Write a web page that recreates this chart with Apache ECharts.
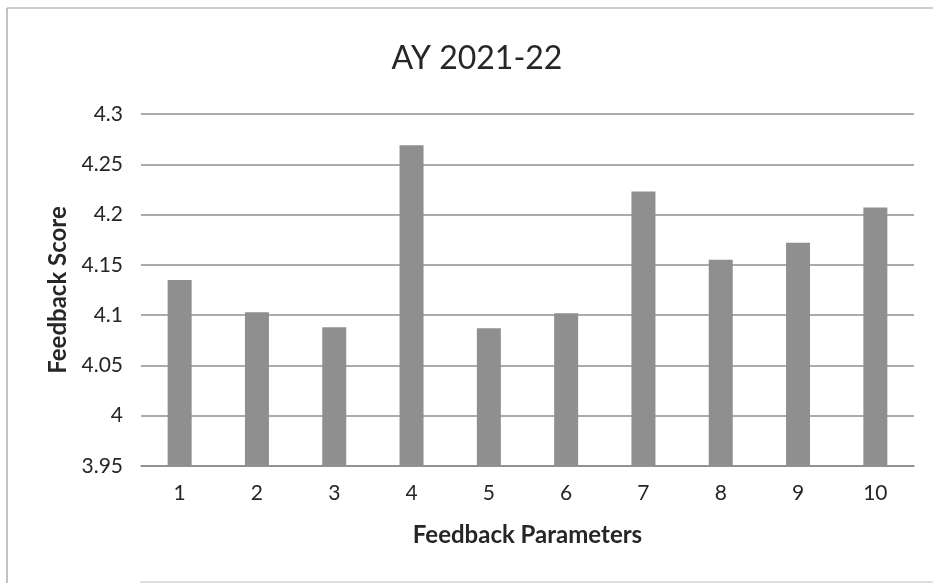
<!DOCTYPE html>
<html>
<head>
<meta charset="utf-8">
<script src="https://cdn.jsdelivr.net/npm/echarts@6/dist/echarts.min.js"></script>
<style>
html,body{margin:0;padding:0;background:#fff;}
#chart{width:933px;height:583px;}
</style>
</head>
<body>
<div id="chart"></div>
<script>
const categories = ['1','2','3','4','5','6','7','8','9','10'];
const scores = [4.135, 4.103, 4.088, 4.269, 4.087, 4.102, 4.223, 4.155, 4.172, 4.207];
const yTicks = [3.95, 4, 4.05, 4.1, 4.15, 4.2, 4.25, 4.3];

const textColor = '#262626';
const font = 'Lato, "Open Sans", sans-serif';

const chart = echarts.init(document.getElementById('chart'));
chart.setOption({
  backgroundColor: '#ffffff',
  animation: false,
  title: {
    text: 'AY 2021-22',
    left: 472, top: 38, textAlign: 'center',
    textStyle: { fontFamily: font, fontSize: 32, fontWeight: 'normal', color: textColor }
  },
  grid: { left: 141, right: 19, top: 114, bottom: 117 },
  xAxis: {
    type: 'category',
    data: categories,
    name: 'Feedback Parameters',
    nameLocation: 'middle',
    nameGap: 57,
    nameTextStyle: { fontFamily: font, fontSize: 24, fontWeight: 'bold', color: textColor },
    axisLine: { lineStyle: { color: '#8a8a8a', width: 1.5 } },
    axisTick: { show: false },
    axisLabel: { fontFamily: font, fontSize: 21, color: textColor, margin: 17 }
  },
  yAxis: {
    type: 'value',
    min: yTicks[0],
    max: yTicks[yTicks.length - 1],
    interval: 0.05,
    name: 'Feedback Score',
    nameLocation: 'middle',
    nameGap: 69,
    nameRotate: 90,
    nameTextStyle: { fontFamily: font, fontSize: 24, fontWeight: 'bold', color: textColor },
    axisLine: { show: false },
    axisTick: { show: false },
    axisLabel: {
      fontFamily: font, fontSize: 21, color: textColor, margin: 18,
      formatter: v => String(parseFloat(v.toFixed(2)))
    },
    splitLine: { lineStyle: { color: '#8f8f8f', width: 1.5 } }
  },
  series: [{
    type: 'bar',
    data: scores,
    barWidth: 24,
    itemStyle: { color: '#8f8f8f' }
  }],
  graphic: [
    { type: 'line', shape: { x1: 7, y1: 8, x2: 933, y2: 8 }, style: { stroke: '#9a9a9a', lineWidth: 1.2 } },
    { type: 'line', shape: { x1: 7, y1: 8, x2: 7, y2: 583 }, style: { stroke: '#9a9a9a', lineWidth: 1.2 } },
    { type: 'line', shape: { x1: 140, y1: 582, x2: 933, y2: 582 }, style: { stroke: '#bdbdbd', lineWidth: 1 } }
  ]
});
</script>
</body>
</html>
